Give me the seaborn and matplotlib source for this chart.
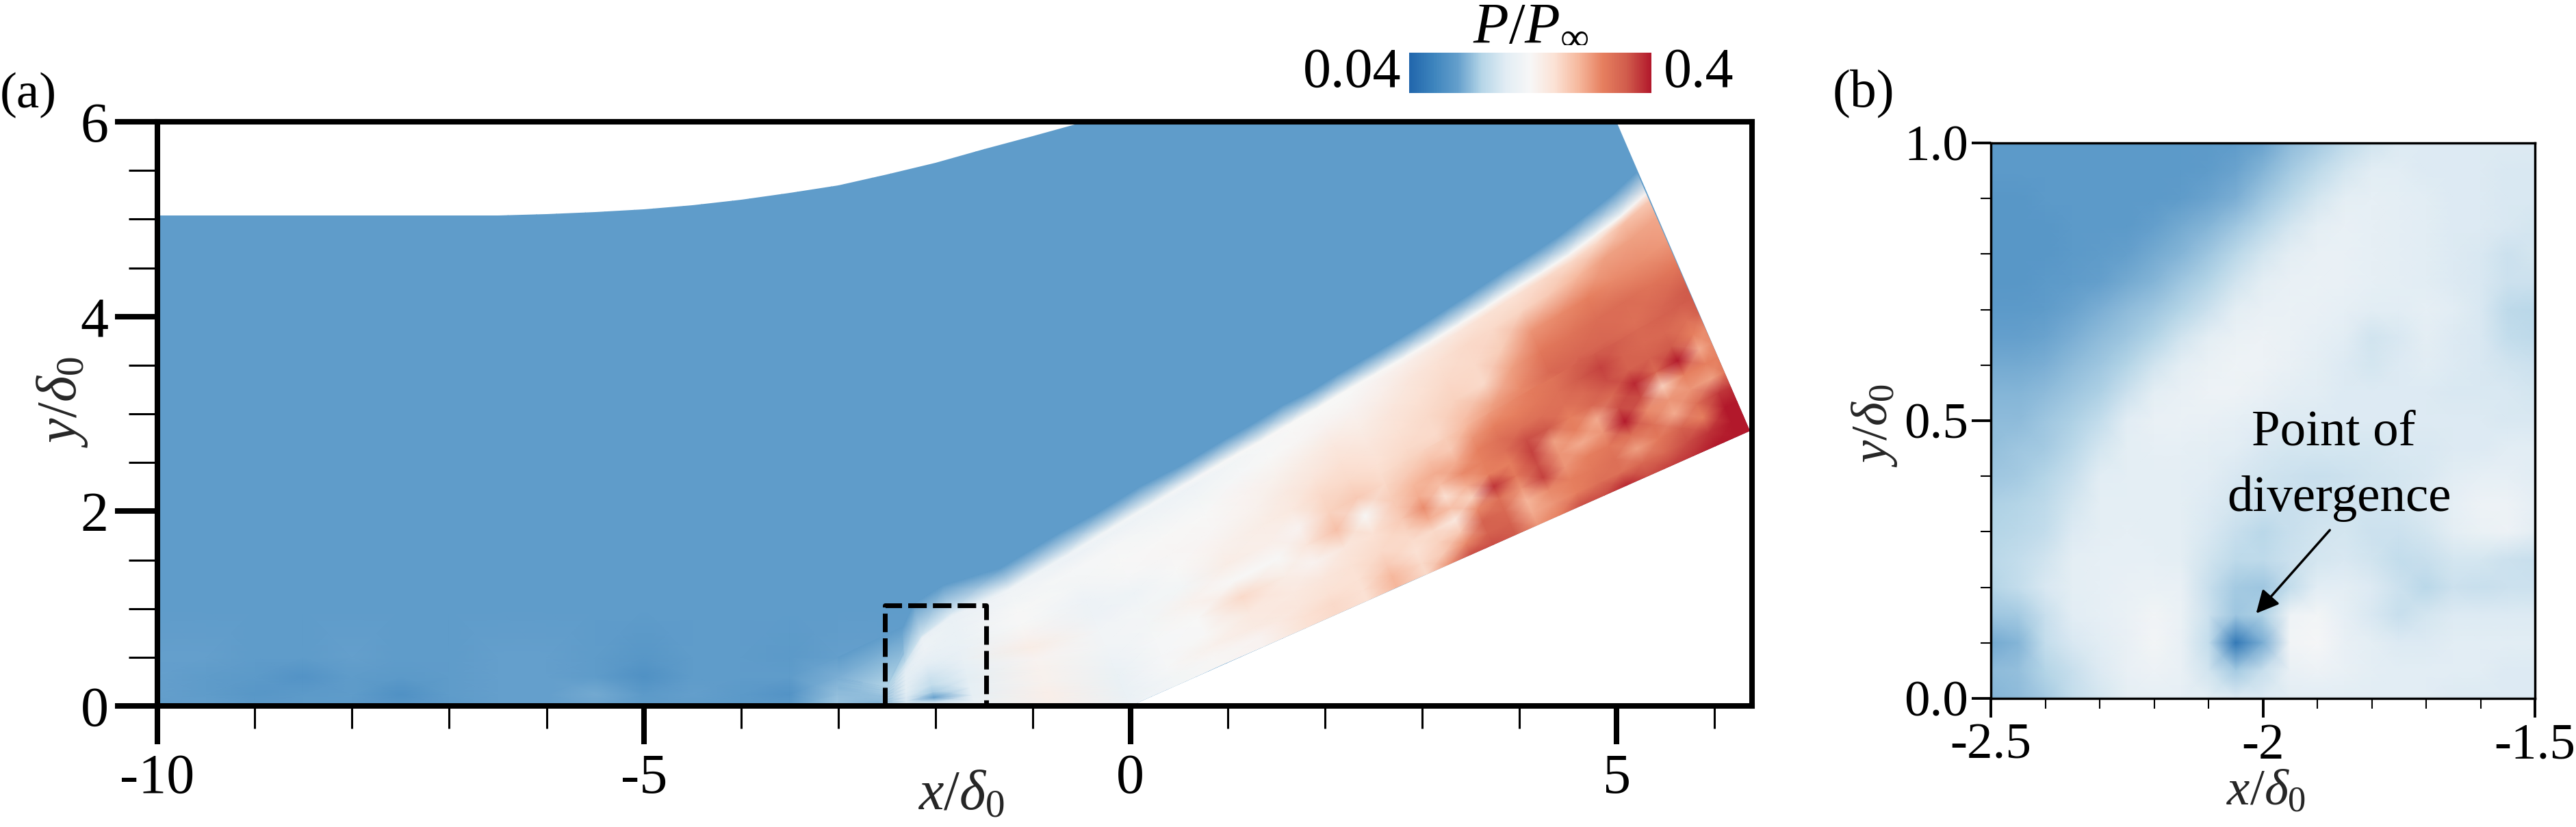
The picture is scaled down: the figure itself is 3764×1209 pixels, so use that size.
"""
Pressure field P/Pinf over a compression ramp: (a) whole domain, (b) close-up of the dashed box.
Levels are read off the picture as percent of the colour bar (0 = 0.04, 100 = 0.4).
"""

import numpy as np
import matplotlib
matplotlib.use("Agg")
import matplotlib.pyplot as plt
from matplotlib.cm import ScalarMappable
from matplotlib.colors import Normalize
from matplotlib.patches import Polygon
from matplotlib.ticker import MultipleLocator
import seaborn as sns

W, H = 3764, 1209

# =============================================
# Data
# =============================================

cbar_colors = ["#2166ac", "#3d84bd", "#649fcc", "#b6d6e8", "#e2edf4", "#f7f7f7",
               "#fbe2d5", "#f6b89d", "#e67f5f", "#d15c4c", "#b2182b"]
cbar_labels = ["0.04", "0.4"]

# outline of the computed domain in panel (a)
domain_x = [-10, 0, 6.37, 5.0, -0.47, -1, -1.5, -2, -2.5, -3, -3.5, -4, -4.5, -5, -5.5, -6, -6.5, -10]
domain_y = [0, 0, 2.825, 6.0, 6.0, 5.85, 5.72, 5.58, 5.46, 5.35, 5.27, 5.20, 5.14, 5.10, 5.07, 5.05, 5.04, 5.04]

# free stream ahead of the shock
free_x = [-10, -9.5, -9, -8.5, -8, -7.5, -7, -6.5, -6, -5.5, -5, -4.5, -4, -3.5, -3, -2.6, -1.5, 6.5]
free_y = [0, 0.12, 0.3, 0.5, 1, 6.1]
free_levels = [
    [19, 20, 18, 19, 18, 17, 18, 20, 20, 21, 19, 19, 18, 18, 27, 25, 19, 19],
    [20, 19, 17, 18, 19, 15, 19, 20, 20, 22, 18, 20, 18, 16, 26, 27, 19, 19],
    [20, 19, 18, 16, 19, 18, 19, 20, 20, 19, 15, 19, 19, 19, 23, 24, 19, 19],
    [20, 20, 19, 19, 20, 19, 19, 20, 20, 19, 17, 19, 19, 18, 20, 20, 19, 19],
    [19, 19, 19, 19, 19, 19, 19, 19, 19, 19, 19, 19, 19, 19, 19, 19, 19, 19],
    [19, 19, 19, 19, 19, 19, 19, 19, 19, 19, 19, 19, 19, 19, 19, 19, 19, 19],
]

# stations from the wall up to the shock, upstream to downstream
wall_x = [-3.0, -2.6, -2.3, -2.0, -1.6, -0.8, 0, 0.46, 0.91, 1.37, 1.83, 2.13, 2.44,
          2.74, 3.04, 3.35, 3.66, 3.96, 4.27, 4.57, 4.87, 5.18, 5.49, 5.79, 6.10, 6.37]
wall_y = [0, 0, 0, 0, 0, 0, 0, 0.20, 0.41, 0.61, 0.81, 0.945, 1.08,
          1.22, 1.35, 1.49, 1.62, 1.76, 1.89, 2.03, 2.16, 2.30, 2.43, 2.57, 2.70, 2.825]
shock_x = [-3.0, -2.5, -2.32, -2.15, -1.85, -1.25, -0.65, -0.24, 0.18, 0.62, 1.05, 1.34, 1.64,
           1.92, 2.20, 2.50, 2.80, 3.07, 3.36, 3.63, 3.93, 4.22, 4.50, 4.77, 5.04, 5.30]
shock_y = [0.3, 0.2, 0.45, 0.72, 0.95, 1.20, 1.55, 1.80, 2.05, 2.31, 2.56, 2.72, 2.90,
           3.06, 3.23, 3.40, 3.57, 3.73, 3.91, 4.08, 4.275, 4.45, 4.63, 4.83, 5.03, 5.26]
# where the blur outside the shock has faded to free stream, as a multiple of wall-to-shock
edge_frac = [1.67, 4.5, 1.8, 1.46, 1.3, 1.18, 1.14, 1.12, 1.12, 1.1, 1.1, 1.1, 1.1,
             1.09, 1.09, 1.09, 1.09, 1.09, 1.09, 1.09, 1.09, 1.09, 1.09, 1.09, 1.09, 1.09]
layer_frac = [0, 0.06, 0.12, 0.2, 0.3, 0.4, 0.5, 0.6, 0.7, 0.8, 0.9, 0.97, 1.0]
edge_level = 19
layer_levels = [
    [27, 27, 26, 26, 26, 25, 25, 24, 24, 24, 23, 23, 23],
    [23, 23, 24, 24, 25, 26, 26, 27, 28, 28, 29, 29, 30],
    [37, 37, 38, 39, 40, 41, 41, 41, 41, 40, 37, 35, 32],
    [41, 34, 20, 28, 33, 35, 38, 41, 43, 45, 45, 43, 36],
    [43, 43, 42, 42, 41, 42, 43, 43, 44, 44, 44, 43, 38],
    [54, 54, 54, 53, 53, 52, 55, 52, 50, 50, 48, 47, 46],
    [45, 44, 44, 44, 45, 47, 47, 45, 45, 48, 49, 45, 46],
    [48, 48, 49, 49, 49, 48, 48, 46, 49, 50, 49, 46, 48],
    [51, 51, 53, 50, 50, 53, 48, 50, 51, 50, 48, 46, 48],
    [52, 52, 56, 57, 62, 50, 55, 53, 51, 50, 48, 46, 49],
    [60, 60, 58, 57, 55, 50, 54, 55, 53, 52, 49, 48, 50],
    [62, 62, 60, 58, 52, 58, 52, 57, 56, 53, 50, 49, 50],
    [60, 60, 60, 60, 58, 68, 64, 62, 58, 55, 51, 50, 50],
    [70, 70, 66, 62, 60, 50, 66, 62, 60, 57, 52, 50, 50],
    [62, 62, 60, 62, 66, 66, 62, 60, 58, 55, 52, 50, 50],
    [72, 72, 62, 58, 60, 74, 65, 62, 60, 58, 54, 52, 50],
    [92, 92, 94, 86, 65, 70, 66, 62, 62, 60, 58, 54, 50],
    [90, 90, 82, 82, 92, 76, 72, 68, 64, 62, 60, 56, 50],
    [65, 65, 72, 68, 76, 86, 80, 74, 62, 62, 62, 58, 50],
    [78, 78, 78, 74, 88, 90, 82, 78, 74, 65, 62, 60, 50],
    [80, 80, 84, 80, 72, 76, 80, 86, 82, 76, 63, 60, 50],
    [82, 82, 90, 85, 98, 80, 94, 87, 83, 78, 66, 62, 50],
    [88, 88, 92, 84, 70, 88, 92, 87, 85, 80, 70, 62, 50],
    [96, 96, 96, 72, 62, 88, 88, 84, 85, 78, 74, 62, 50],
    [100, 100, 98, 85, 78, 75, 90, 87, 83, 77, 74, 68, 50],
    [100, 100, 98, 92, 84, 80, 90, 90, 82, 75, 73, 66, 52],
]

# finer near-wall band on the ramp: distance along the ramp, band depth, ten levels from the wall up
ramp_cos, ramp_sin = 0.9142, 0.4054
band_s = [3.33, 3.58, 3.83, 4.08, 4.33, 4.58, 4.83, 5.08, 5.33, 5.58, 5.83, 6.08, 6.33, 6.58, 6.83, 6.97]
band_depth = [1.13, 1.15, 1.18, 1.20, 1.23, 1.25, 1.27, 1.30, 1.32, 1.35, 1.37, 1.39, 1.42, 1.44, 1.47, 1.48]
band_levels = [
    [62, 62, 60, 61, 64, 66, 66, 65, 63, 61],
    [76, 66, 64, 62, 72, 78, 72, 70, 66, 63],
    [92, 78, 66, 57, 68, 60, 68, 72, 68, 64],
    [92, 88, 88, 78, 64, 72, 78, 72, 66, 65],
    [90, 88, 86, 84, 96, 80, 80, 80, 76, 70],
    [76, 72, 70, 76, 82, 80, 84, 84, 80, 75],
    [80, 76, 78, 94, 92, 94, 92, 84, 80, 78],
    [92, 80, 80, 76, 76, 74, 90, 84, 82, 81],
    [92, 84, 82, 80, 72, 80, 80, 84, 84, 83],
    [98, 84, 84, 82, 76, 72, 86, 86, 90, 88],
    [92, 86, 74, 84, 100, 92, 86, 92, 94, 90],
    [94, 86, 82, 84, 78, 92, 98, 88, 88, 89],
    [96, 92, 88, 72, 76, 64, 86, 88, 86, 86],
    [100, 96, 80, 84, 76, 80, 100, 90, 86, 88],
    [100, 100, 100, 95, 74, 80, 72, 80, 84, 89],
    [100, 100, 100, 96, 82, 80, 78, 78, 88, 90],
]

# close-up, top row is y = 1.0, bottom row is y = 0.0, columns run from x = -2.5 to -1.5
closeup_levels = [
    [18, 18, 18, 18, 18, 18, 18, 18, 18, 19, 21, 25, 28, 32, 36, 39, 39, 39, 39, 39, 39],
    [18, 18, 18, 18, 18, 18, 18, 18, 19, 21, 24, 28, 32, 37, 40, 40, 39, 39, 39, 38, 38],
    [17, 17, 18, 18, 18, 18, 18, 19, 21, 23, 27, 31, 37, 41, 42, 41, 40, 39, 39, 38, 38],
    [17, 17, 17, 18, 18, 18, 20, 22, 24, 27, 31, 37, 41, 43, 42, 41, 40, 39, 39, 38, 37],
    [17, 17, 17, 18, 19, 20, 22, 24, 27, 31, 37, 41, 43, 43, 42, 41, 40, 39, 38, 35, 37],
    [17, 17, 18, 19, 20, 22, 24, 27, 30, 36, 41, 43, 44, 43, 42, 41, 40, 39, 38, 35, 35],
    [18, 18, 19, 21, 23, 25, 27, 30, 35, 41, 43, 44, 43, 42, 40, 40, 42, 40, 38, 32, 31],
    [20, 20, 21, 23, 25, 27, 30, 36, 41, 44, 45, 44, 42, 40, 36, 38, 41, 39, 38, 33, 32],
    [22, 22, 23, 25, 27, 30, 36, 41, 44, 46, 45, 43, 41, 39, 37, 39, 40, 39, 38, 36, 35],
    [24, 24, 25, 27, 29, 35, 41, 43, 45, 45, 43, 41, 40, 39, 39, 39, 39, 38, 38, 38, 37],
    [25, 25, 27, 29, 33, 40, 43, 44, 43, 42, 40, 39, 39, 39, 39, 39, 39, 39, 39, 38, 38],
    [26, 27, 28, 31, 37, 41, 42, 42, 41, 40, 38, 37, 37, 37, 37, 38, 38, 39, 39, 40, 40],
    [27, 28, 30, 34, 40, 41, 41, 41, 40, 38, 36, 35, 34, 35, 36, 37, 38, 40, 42, 42, 40],
    [29, 30, 32, 37, 41, 41, 41, 41, 39, 37, 35, 34, 35, 36, 36, 37, 39, 42, 45, 45, 42],
    [30, 31, 33, 39, 41, 42, 41, 41, 38, 34, 31, 34, 36, 37, 35, 35, 37, 41, 44, 45, 41],
    [31, 33, 36, 41, 42, 42, 42, 41, 36, 32, 32, 35, 37, 38, 36, 33, 34, 37, 37, 35, 34],
    [30, 33, 38, 41, 42, 43, 44, 43, 34, 28, 27, 33, 40, 41, 39, 35, 31, 35, 34, 35, 35],
    [27, 28, 34, 40, 42, 44, 47, 44, 35, 27, 29, 46, 48, 42, 38, 34, 37, 39, 39, 39, 39],
    [22, 24, 33, 38, 40, 43, 48, 43, 33, 6, 23, 47, 49, 43, 41, 39, 39, 40, 40, 40, 40],
    [25, 26, 30, 34, 39, 43, 45, 43, 36, 28, 34, 43, 45, 43, 41, 40, 40, 40, 40, 39, 39],
    [24, 25, 28, 33, 37, 41, 42, 42, 41, 39, 39, 40, 40, 40, 40, 40, 40, 39, 39, 39, 39],
]

box_x = [-2.52, -2.52, -1.48, -1.48]
box_y = [0, 1.03, 1.03, 0]

# =============================================
# Style
# =============================================

sns.set_theme(style="ticks")
plt.rcParams["font.family"] = ["Liberation Serif", "DejaVu Serif"]
plt.rcParams["mathtext.fontset"] = "custom"
plt.rcParams["mathtext.rm"] = "Liberation Serif"
plt.rcParams["mathtext.it"] = "Liberation Serif:italic"
plt.rcParams["mathtext.bf"] = "Liberation Serif:bold"
plt.rcParams["axes.edgecolor"] = "black"
plt.rcParams["text.color"] = "black"
plt.rcParams["xtick.color"] = "black"
plt.rcParams["ytick.color"] = "black"

cmap = sns.blend_palette(cbar_colors, n_colors=256, as_cmap=True)
norm = Normalize(0, 100)


def axes_rect(left, top, right, bottom):
    """Axes rectangle from pixel edges of the picture"""
    return [left / W, 1 - bottom / H, (right - left) / W, (bottom - top) / H]


fig = plt.figure(figsize=(W / 100, H / 100), dpi=100, facecolor="white")

# =============================================
# Panel (a)
# =============================================

ax_a = fig.add_axes(axes_rect(230, 178, 2560, 1032))
ax_a.set_xlim(-10, 6.39)
ax_a.set_ylim(0, 6)

clip = Polygon(np.column_stack([domain_x, domain_y]), transform=ax_a.transData, facecolor="none", edgecolor="none")
ax_a.add_patch(clip)

fx, fy = np.meshgrid(free_x, free_y)
free_mesh = ax_a.pcolormesh(fx, fy, np.array(free_levels), cmap=cmap, norm=norm, shading="gouraud", zorder=1)
free_mesh.set_clip_path(clip)

wx, wy = np.array(wall_x), np.array(wall_y)
sx, sy = np.array(shock_x), np.array(shock_y)
frac = np.array(layer_frac)[:, None]
ex, ey = wx + np.array(edge_frac) * (sx - wx), wy + np.array(edge_frac) * (sy - wy)
lx = np.vstack([wx + frac * (sx - wx), ex])
ly = np.vstack([wy + frac * (sy - wy), ey])
lz = np.vstack([np.array(layer_levels).T, np.full(len(wall_x), edge_level)])
layer_mesh = ax_a.pcolormesh(lx, ly, lz, cmap=cmap, norm=norm, shading="gouraud", zorder=2)
layer_mesh.set_clip_path(clip)

s, d = np.array(band_s), np.array(band_depth)
k = np.linspace(0, 1, 10)[:, None]
bx = s * ramp_cos - k * d * ramp_sin
by = s * ramp_sin + k * d * ramp_cos
band_mesh = ax_a.pcolormesh(bx, by, np.array(band_levels).T, cmap=cmap, norm=norm, shading="gouraud", zorder=2.5)
band_mesh.set_clip_path(clip)

ax_a.plot(box_x, box_y, color="black", lw=5, ls=(0, (3.9, 1.3)), dash_capstyle="butt", zorder=3)

ax_a.set_xticks([-10, -5, 0, 5], labels=["-10", "-5", "0", "5"])
ax_a.set_yticks([0, 2, 4, 6], labels=["0", "2", "4", "6"])
ax_a.xaxis.set_minor_locator(MultipleLocator(1))
ax_a.yaxis.set_minor_locator(MultipleLocator(0.5))
ax_a.tick_params(axis="x", which="major", length=40, width=5.8, pad=10, labelsize=59)
ax_a.tick_params(axis="y", which="major", length=45, width=5.8, pad=6.5, labelsize=59)
ax_a.tick_params(axis="x", which="minor", length=24, width=2.2)
ax_a.tick_params(axis="y", which="minor", length=30, width=2.2)
for side in ax_a.spines.values():
    side.set_linewidth(5.8)
    side.set_zorder(5)
ax_a.set_xlabel(r"$x/\delta_0$", fontsize=59, ha="center", va="center")
ax_a.xaxis.set_label_coords((1404 - 230) / 2330, (1032 - 1163) / 854)
ax_a.set_ylabel(r"$y/\delta_0$", fontsize=59, ha="center", va="center")
ax_a.yaxis.set_label_coords((91 - 230) / 2330, (1032 - 588) / 854)

# =============================================
# Panel (b)
# =============================================

rect_b = axes_rect(2909, 209, 3704, 1021)
field_b = fig.add_axes(rect_b)
sns.heatmap(np.array(closeup_levels), ax=field_b, cmap=cmap, vmin=0, vmax=100, cbar=False,
            xticklabels=False, yticklabels=False, shading="gouraud")
field_b.set_xlim(0, 20)
field_b.set_ylim(20, 0)
field_b.axis("off")

ax_b = fig.add_axes(rect_b)
ax_b.patch.set_visible(False)
ax_b.set_xlim(-2.5, -1.5)
ax_b.set_ylim(0, 1)
ax_b.set_xticks([-2.5, -2, -1.5], labels=["-2.5", "-2", "-1.5"])
ax_b.set_yticks([0, 0.5, 1], labels=["0.0", "0.5", "1.0"])
ax_b.xaxis.set_minor_locator(MultipleLocator(0.1))
ax_b.yaxis.set_minor_locator(MultipleLocator(0.1))
ax_b.tick_params(axis="x", which="major", length=20, width=2.8, pad=6, labelsize=54)
ax_b.tick_params(axis="y", which="major", length=20, width=2.8, pad=3.6, labelsize=54)
ax_b.tick_params(which="minor", length=11, width=1.5)
for side in ax_b.spines.values():
    side.set_linewidth(2.5)
ax_b.set_xlabel(r"$x/\delta_0$", fontsize=54, ha="center", va="center")
ax_b.xaxis.set_label_coords((3311 - 2909) / 795, (1021 - 1159) / 812)
ax_b.set_ylabel(r"$y/\delta_0$", fontsize=54, ha="center", va="center")
ax_b.yaxis.set_label_coords((2739 - 2909) / 795, (1021 - 622) / 812)

ax_b.text(-1.87, 0.478, "Point of", fontsize=54, ha="center", va="center")
ax_b.text(-1.86, 0.36, "divergence", fontsize=54, ha="center", va="center")
ax_b.annotate("", xy=(-2.0125, 0.153), xytext=(-1.877, 0.303),
              arrowprops=dict(arrowstyle="-|>,head_length=0.4,head_width=0.2", color="black", lw=2.5,
                              mutation_scale=50, shrinkA=0, shrinkB=0))

# =============================================
# Colour bar and panel letters
# =============================================

cax = fig.add_axes(axes_rect(2059, 77, 2413, 136))
cbar = fig.colorbar(ScalarMappable(norm=norm, cmap=cmap), cax=cax, orientation="horizontal")
cbar.set_ticks([])
cbar.outline.set_visible(False)

fig.text(2047 / W, 1 - 107 / H, cbar_labels[0], fontsize=59, ha="right", va="center")
fig.text(2431 / W, 1 - 107 / H, cbar_labels[1], fontsize=59, ha="left", va="center")
fig.text(2237 / W, 1 - 37 / H, r"$P/P_\infty$", fontsize=61, ha="center", va="center")
fig.text(0 / W, 1 - 139 / H, "(a)", fontsize=54, ha="left", va="center")
fig.text(2678 / W, 1 - 138 / H, "(b)", fontsize=56, ha="left", va="center")

fig.savefig("out.png", dpi=100)
